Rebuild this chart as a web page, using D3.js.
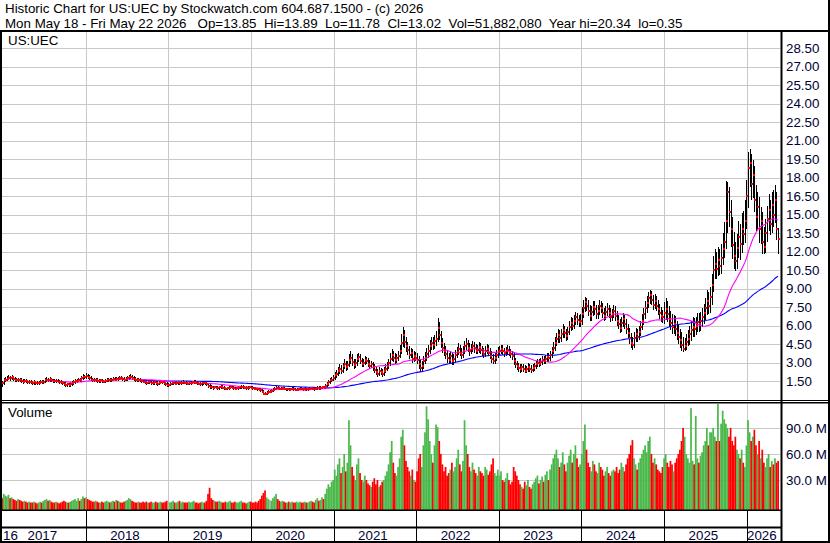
<!DOCTYPE html>
<html><head><meta charset="utf-8">
<script src="https://cdn.jsdelivr.net/npm/d3@7/dist/d3.min.js"></script>
<style>
html,body{margin:0;padding:0;background:#fff}
svg{display:block}
text{font-family:Arial,"Liberation Sans",sans-serif;font-size:13.33px}
</style>
</head><body>
<svg id="chart" width="830" height="543"></svg>
<script>
// ---------------- DATA (weekly bars, last week ends Fri May 22 2026) ----------------
const lastWeekEnd = "2026-05-22";
const headerLine1 = "Historic Chart for US:UEC by Stockwatch.com 604.687.1500 - (c) 2026";
const headerLine2 = "Mon May 18 - Fri May 22 2026   Op=13.85  Hi=13.89  Lo=11.78  Cl=13.02  Vol=51,882,080  Year hi=20.34  lo=0.35";
const symbol = "US:UEC";

const closes = [
// 2016
1.30,
// 2017
1.55,1.62,1.70,1.78,1.72,1.80,1.68,1.60,1.55,1.62,1.58,1.50,
1.45,1.52,1.48,1.40,1.42,1.38,1.35,1.40,1.32,1.30,1.36,1.42,1.38,
1.45,1.55,1.62,1.58,1.65,1.55,1.50,1.48,1.52,1.45,1.42,1.38,
1.30,1.25,1.20,1.22,1.18,1.25,1.32,1.40,1.48,1.52,1.60,1.58,1.72,1.85,1.80,
// 2018
1.90,1.82,1.75,1.62,1.58,1.55,1.60,1.52,1.50,1.55,1.48,1.45,
1.52,1.58,1.62,1.55,1.60,1.65,1.62,1.70,1.68,1.75,1.72,1.65,
1.60,1.68,1.72,1.80,1.85,1.75,1.65,1.60,1.58,1.62,1.55,1.50,
1.45,1.40,1.35,1.42,1.38,1.30,1.35,1.40,1.32,1.28,1.35,1.42,1.38,1.30,1.25,1.20,
// 2019
1.20,1.26,1.32,1.35,1.28,1.33,1.38,1.31,1.35,1.42,1.37,1.32,
1.28,1.30,1.35,1.40,1.44,1.37,1.32,1.27,1.22,1.30,1.36,1.30,
1.24,1.12,1.04,1.00,0.95,0.99,0.95,0.92,0.98,1.02,0.96,0.90,
0.88,0.92,0.95,1.00,0.96,0.92,0.88,0.90,0.94,0.98,1.02,0.98,0.95,0.92,0.96,1.00,
// 2020
0.95,0.92,0.88,0.85,0.82,0.80,0.75,0.62,0.45,0.42,0.55,0.62,
0.62,0.70,0.78,0.85,0.95,0.90,0.85,0.88,0.92,0.86,0.82,0.84,
0.80,0.85,0.88,0.82,0.78,0.80,0.84,0.88,0.85,0.82,0.86,0.83,
0.85,0.88,0.90,0.86,0.84,0.92,0.95,0.90,0.94,1.00,0.98,1.10,1.25,1.40,1.55,1.62,
// 2021
1.75,1.95,2.10,2.30,2.50,2.35,2.70,2.90,2.60,2.80,3.20,3.40,
3.05,2.80,2.95,3.30,3.45,3.10,2.85,3.00,3.20,3.10,2.90,2.75,2.85,
2.60,2.40,2.25,2.10,2.30,2.20,2.05,2.35,2.50,
2.70,2.95,3.30,3.60,3.40,3.20,3.35,3.55,3.90,4.60,5.20,4.70,4.30,
4.00,3.60,3.80,3.30,3.50,3.40,
// 2022
3.20,2.90,2.55,2.70,3.10,3.40,3.70,3.95,4.30,4.60,4.40,4.75,4.90,
5.80,5.20,4.60,4.20,3.90,3.70,3.40,3.20,3.50,3.10,
3.30,3.60,3.85,4.10,3.80,3.60,3.95,4.30,4.50,4.20,3.90,4.10,4.35,4.15,3.95,4.05,4.25,
4.00,3.85,3.70,3.95,4.10,3.80,3.55,3.30,3.15,3.40,3.60,3.85,
// 2023
3.95,4.10,3.90,3.75,3.95,4.05,3.80,3.65,3.50,3.10,2.85,2.70,2.55,
2.45,2.60,2.50,2.35,2.45,2.65,2.50,2.40,
2.55,2.70,2.85,3.00,2.90,3.05,3.20,3.10,3.30,3.45,3.35,
3.60,3.90,4.20,4.60,4.90,5.20,4.95,5.30,5.60,5.40,5.15,5.50,5.90,6.20,6.00,6.40,6.70,6.45,6.30,6.40,
// 2024
6.90,7.40,7.90,7.60,7.20,
6.80,7.10,7.50,7.30,6.90,7.20,7.60,7.40,7.00,6.80,7.10,7.30,7.00,6.70,6.90,7.20,
6.80,6.40,6.10,5.80,6.20,6.50,6.10,5.70,5.40,5.00,
4.60,4.40,5.00,5.30,5.10,5.50,5.90,6.40,6.90,7.40,7.80,8.20,8.50,
8.10,7.70,8.00,7.60,7.30,7.00,6.80,6.70,
// 2025
7.00,7.30,6.90,6.50,6.20,5.90,6.10,5.70,5.40,5.10,
4.80,4.40,4.10,4.30,4.70,4.90,
5.30,5.60,5.90,5.70,6.00,6.30,6.10,6.40,6.70,7.00,
7.40,8.00,7.60,8.30,9.30,10.50,11.00,10.60,11.30,10.80,11.50,
12.20,12.80,14.50,16.80,15.20,13.80,12.50,11.60,11.20,12.30,13.20,12.60,13.80,13.40,14.50,
// 2026
16.50,18.80,19.20,17.50,18.20,16.20,14.80,15.60,13.80,14.50,12.80,12.40,13.50,14.60,15.40,14.20,15.80,15.00,16.20,13.85,13.02
];

const highs = [
// 2016
1.47,
// 2017
1.71,1.80,1.87,1.98,1.93,2.00,1.93,1.83,1.75,1.77,1.76,1.71,
1.63,1.67,1.66,1.61,1.57,1.56,1.52,1.55,1.53,1.47,1.51,1.57,1.56,
1.61,1.71,1.79,1.77,1.81,1.78,1.69,1.65,1.67,1.65,1.59,1.56,
1.51,1.44,1.39,1.37,1.36,1.39,1.47,1.56,1.65,1.69,1.77,1.76,1.89,2.07,2.01,
// 2018
2.11,2.05,1.97,1.89,1.77,1.73,1.75,1.73,1.67,1.69,1.68,1.62,
1.67,1.73,1.78,1.76,1.75,1.81,1.79,1.85,1.85,1.91,1.89,1.85,
1.79,1.83,1.87,1.95,2.03,1.98,1.88,1.79,1.75,1.77,1.75,1.69,
1.63,1.59,1.54,1.57,1.55,1.51,1.50,1.55,1.53,1.46,1.49,1.57,1.55,1.51,1.44,1.39,
// 2019
1.36,1.40,1.46,1.50,1.47,1.47,1.52,1.50,1.48,1.56,1.54,1.49,
1.44,1.44,1.48,1.54,1.58,1.56,1.49,1.44,1.39,1.43,1.50,1.48,
1.42,1.36,1.25,1.18,1.13,1.13,1.11,1.08,1.11,1.16,1.14,1.08,
1.03,1.05,1.08,1.14,1.12,1.08,1.04,1.03,1.07,1.11,1.16,1.14,1.10,1.07,1.09,1.13,
// 2020
1.11,1.06,1.03,0.99,0.97,0.94,0.91,0.87,0.73,0.58,0.67,0.75,
0.77,0.83,0.91,0.99,1.11,1.07,1.02,1.01,1.05,1.03,0.97,0.96,
0.95,0.97,1.01,0.99,0.93,0.92,0.96,1.01,0.99,0.96,0.98,0.97,
0.97,1.00,1.03,1.01,0.97,1.04,1.08,1.06,1.06,1.13,1.13,1.25,1.43,1.60,1.77,1.85,
// 2021
1.95,2.20,2.40,2.60,2.88,2.80,3.00,3.25,3.15,3.10,3.65,3.90,
3.65,3.30,3.28,3.65,3.80,3.70,3.35,3.32,3.55,3.48,3.35,3.18,3.15,
3.08,2.85,2.65,2.50,2.60,2.55,2.45,2.65,2.85,
3.05,3.30,3.75,4.10,3.95,3.75,3.70,3.95,4.40,5.30,5.85,5.60,5.10,
4.70,4.35,4.20,4.10,3.90,3.85,
// 2022
3.80,3.55,3.20,3.10,3.50,3.85,4.20,4.45,4.80,5.10,5.05,5.20,5.55,
6.60,6.25,5.55,4.95,4.60,4.30,4.05,3.80,3.90,3.80,
3.70,4.00,4.25,4.55,4.45,4.15,4.35,4.75,4.95,4.85,4.55,4.50,4.75,4.70,4.50,4.45,4.65,
4.60,4.35,4.20,4.35,4.50,4.40,4.15,3.90,3.70,3.80,4.00,4.25,
// 2023
4.30,4.45,4.40,4.18,4.25,4.40,4.30,4.10,3.95,3.75,3.40,3.15,3.00,
2.85,2.90,2.88,2.78,2.75,2.95,2.90,2.78,
2.85,3.00,3.15,3.32,3.28,3.35,3.52,3.50,3.62,3.80,3.75,
3.95,4.25,4.65,5.05,5.40,5.70,5.60,5.75,6.10,6.00,5.75,5.90,6.35,6.70,6.60,6.85,7.10,7.05,6.85,6.90,
// 2024
7.50,8.05,8.30,8.25,8.05,
7.65,7.60,8.00,7.95,7.70,7.65,8.05,8.00,7.80,7.45,7.55,7.80,7.70,7.40,7.35,7.70,
7.60,7.20,6.85,6.55,6.65,7.00,6.85,6.50,6.15,5.80,
5.40,5.10,5.45,5.80,5.75,6.00,6.40,6.95,7.45,8.00,8.40,8.70,8.85,
8.80,8.50,8.55,8.40,8.05,7.75,7.50,7.25,
// 2025
7.90,8.20,7.95,7.55,7.20,6.90,6.85,6.75,6.35,6.05,
5.75,5.45,5.10,5.00,5.35,5.60,
6.00,6.35,6.65,6.60,6.70,7.05,7.00,7.10,7.45,7.75,
8.20,8.90,8.70,9.10,10.20,11.60,12.20,12.00,12.40,12.20,12.60,
13.50,14.40,17.75,17.60,17.20,16.20,14.80,13.60,12.80,13.40,14.50,14.20,15.10,15.30,16.20,
// 2026
17.80,20.10,20.34,19.90,19.40,18.90,17.40,16.80,16.40,15.60,15.20,14.00,14.60,15.70,16.70,16.20,16.80,17.00,17.40,16.80,13.89
];

const lows = [
// 2016
1.03,
// 2017
1.19,1.39,1.47,1.55,1.54,1.57,1.51,1.44,1.39,1.41,1.43,1.35,
1.29,1.31,1.33,1.25,1.25,1.23,1.19,1.21,1.17,1.14,1.17,1.23,1.23,
1.25,1.33,1.41,1.43,1.45,1.40,1.35,1.33,1.35,1.30,1.27,1.23,
1.15,1.09,1.04,1.05,1.02,1.05,1.12,1.19,1.27,1.34,1.39,1.42,1.45,1.59,1.63,
// 2018
1.65,1.67,1.59,1.47,1.43,1.39,1.41,1.37,1.35,1.36,1.33,1.30,
1.32,1.39,1.44,1.41,1.42,1.47,1.47,1.49,1.53,1.55,1.57,1.50,
1.45,1.47,1.54,1.59,1.66,1.60,1.50,1.45,1.43,1.44,1.40,1.35,
1.30,1.25,1.20,1.22,1.23,1.15,1.16,1.21,1.17,1.13,1.15,1.22,1.23,1.15,1.09,1.03,
// 2019
1.05,1.08,1.14,1.19,1.14,1.16,1.20,1.18,1.19,1.23,1.24,1.19,
1.14,1.15,1.18,1.23,1.28,1.24,1.19,1.14,1.08,1.10,1.18,1.17,
1.10,0.96,0.86,0.85,0.81,0.83,0.82,0.78,0.80,0.86,0.83,0.77,
0.74,0.76,0.80,0.83,0.83,0.79,0.75,0.75,0.78,0.82,0.86,0.85,0.82,0.79,0.80,0.84,
// 2020
0.83,0.80,0.76,0.73,0.70,0.68,0.62,0.49,0.36,0.35,0.36,0.44,
0.49,0.51,0.59,0.67,0.75,0.77,0.73,0.74,0.77,0.74,0.70,0.71,
0.68,0.69,0.74,0.70,0.66,0.67,0.69,0.73,0.73,0.70,0.71,0.71,
0.72,0.74,0.77,0.74,0.72,0.74,0.80,0.78,0.79,0.83,0.86,0.88,0.98,1.11,1.27,1.39,
// 2021
1.50,1.62,1.78,1.92,2.10,2.05,2.18,2.45,2.35,2.40,2.62,2.90,
2.75,2.50,2.57,2.75,3.05,2.85,2.60,2.65,2.80,2.85,2.67,2.50,2.53,
2.35,2.15,2.00,1.82,1.90,1.95,1.80,1.88,2.15,
2.30,2.50,2.75,3.10,3.05,2.90,2.95,3.15,3.35,3.65,4.25,4.15,3.85,
3.60,3.30,3.35,3.00,3.05,3.10,
// 2022
2.85,2.50,2.22,2.25,2.45,2.85,3.10,3.40,3.70,4.00,4.00,4.10,4.35,
4.65,4.80,4.20,3.80,3.50,3.25,3.00,2.85,2.90,2.80,
2.80,3.05,3.35,3.60,3.50,3.25,3.35,3.70,4.00,3.85,3.55,3.65,3.85,3.80,3.65,3.65,3.75,
3.70,3.55,3.35,3.45,3.65,3.50,3.25,2.98,2.85,2.88,3.10,3.35,
// 2023
3.57,3.67,3.62,3.47,3.52,3.67,3.52,3.37,3.22,2.80,2.55,2.40,2.25,
2.15,2.22,2.25,2.12,2.15,2.25,2.27,2.18,
2.20,2.35,2.50,2.65,2.67,2.70,2.82,2.85,2.90,3.08,3.08,
3.12,3.35,3.65,3.95,4.30,4.60,4.55,4.65,4.95,5.00,4.75,4.85,5.20,5.55,5.60,5.70,6.05,6.05,5.85,5.90,
// 2024
6.05,6.60,7.10,7.15,6.75,
6.35,6.40,6.75,6.85,6.50,6.55,6.85,7.00,6.60,6.35,6.45,6.75,6.60,6.30,6.35,6.60,
6.40,5.95,5.70,5.40,5.50,5.85,5.70,5.30,4.95,4.50,
4.15,4.05,4.15,4.65,4.70,4.80,5.15,5.60,6.05,6.55,7.05,7.45,7.75,
7.65,7.25,7.35,7.15,6.85,6.55,6.30,6.20,
// 2025
6.15,6.45,6.30,5.90,5.60,5.30,5.35,5.15,4.80,4.50,
4.15,3.90,3.85,3.90,4.00,4.30,
4.40,4.75,5.05,5.10,5.20,5.45,5.50,5.55,5.85,6.15,
6.45,6.85,6.95,7.05,7.70,8.70,9.80,9.80,10.00,10.10,10.20,
10.90,11.50,12.20,13.50,14.00,12.40,11.40,10.60,10.40,10.60,11.50,11.30,11.90,12.50,12.70,
// 2026
13.80,15.50,17.20,16.20,16.30,15.20,13.70,13.80,12.70,12.60,11.80,11.80,11.90,12.80,13.70,13.30,13.50,14.00,14.30,12.90,11.78
];

// weekly volume, millions of shares
const volumes = [
// 2016
9,
// 2017
14,12,11,13,9,10,8,7,6,8,7,6,
5,6,5,4,5,4,4,5,4,3,4,5,4,
6,7,8,6,7,5,4,4,5,4,3,4,
5,6,5,4,4,5,6,7,8,6,9,6,8,11,9,
// 2018
10,8,7,6,5,5,6,5,4,4,5,4,
5,6,5,4,5,6,5,7,6,5,4,4,
5,6,7,9,8,6,5,4,4,5,4,4,
5,4,5,4,4,5,4,4,5,4,4,5,4,4,5,6,
// 2019
5,4,5,6,4,4,5,6,4,5,4,4,
4,5,4,5,6,4,4,3,4,5,4,4,
6,14,21,9,7,6,5,5,6,5,4,4,
5,4,5,6,4,4,5,4,4,5,6,4,4,3,4,5,
// 2020
5,4,4,5,4,6,8,12,15,18,10,8,
7,6,9,11,14,8,6,5,6,5,4,4,
5,4,5,4,4,5,4,5,4,4,5,4,
4,5,6,5,4,7,9,6,7,10,8,14,20,25,22,28,
// 2021
30,42,35,48,55,38,45,60,40,50,99,70,
45,35,30,48,55,38,30,28,35,30,26,24,22,
28,32,25,30,22,24,28,30,35,
40,48,62,75,50,38,35,45,55,80,88,70,52,
45,40,35,42,30,28,
// 2022
40,55,60,45,70,85,115,100,75,60,50,70,94,
91,75,60,48,40,45,35,38,42,50,
40,45,55,65,48,40,52,99,70,60,45,40,50,42,38,35,45,
40,38,35,45,42,36,40,48,55,38,35,42,
// 2023
35,40,30,28,32,38,30,25,28,45,40,35,30,
25,22,20,28,24,30,22,20,
25,28,32,35,26,30,34,28,36,40,30,
42,48,55,60,65,55,45,50,62,48,40,50,58,65,50,60,70,55,45,48,
// 2024
60,75,94,65,50,
45,40,52,48,40,38,50,45,42,35,40,45,38,35,40,42,
40,45,38,42,50,45,40,48,55,60,
70,76,55,48,42,50,55,60,65,70,62,75,80,
60,50,55,48,42,40,38,45,
// 2025
55,60,50,45,52,48,40,50,55,60,
65,75,90,80,60,55,
50,113,52,48,104,55,50,58,62,70,
75,90,70,85,85,90,80,75,118,75,95,
110,100,95,90,80,90,75,70,80,65,60,55,65,50,45,
// 2026
70,99,85,75,80,88,70,60,75,55,65,50,45,55,60,45,52,48,55,50,51.9
];

const priceTicks = [1.5,3,4.5,6,7.5,9,10.5,12,13.5,15,16.5,18,19.5,21,22.5,24,25.5,27,28.5];
const volumeTicks = [30,60,90];
const yearLabels = ["16","2017","2018","2019","2020","2021","2022","2023","2024","2025","2026"];
const maShortWeeks = 30;
const maLongWeeks = 90;

// ---------------- LAYOUT ----------------
const W = 830, H = 543;
const plotL = 2, plotR = 780, axisX = 781;
const priceTop = 32, priceBot = 400;
const volTop = 404, volBot = 510;
const band2Bot = 541;

const svg = d3.select("#chart");
svg.append("rect").attr("width", W).attr("height", H).attr("fill", "#fff");

const N = closes.length;
const parse = d3.utcParse("%Y-%m-%d");
const last = parse(lastWeekEnd);
const dates = closes.map((_, i) => d3.utcHour.offset(d3.utcDay.offset(last, -7 * (N - 1 - i)), -60));

const x = d3.scaleUtc()
  .domain([new Date(Date.UTC(2017,0,1)), new Date(Date.UTC(2026,0,1))])
  .range([3.1, 746.7]);
const y = d3.scaleLinear().domain([0, 28.5]).range([399.5, 48.0]);
const yv = d3.scaleLinear().domain([0, 90]).range([506, 428]);

const yearStarts = d3.utcYear.range(new Date(Date.UTC(2017,0,1)), new Date(Date.UTC(2027,0,1)));
const gridCol = "#c8c8c8";

const defs = svg.append("defs");
defs.append("clipPath").attr("id","cp").append("rect")
  .attr("x", plotL).attr("y", priceTop).attr("width", plotR - plotL).attr("height", priceBot - priceTop);
defs.append("clipPath").attr("id","cv").append("rect")
  .attr("x", plotL).attr("y", volTop).attr("width", plotR - plotL).attr("height", volBot - volTop);

// ---------------- GRID ----------------
const grid = svg.append("g").attr("stroke", gridCol).attr("stroke-width", 1).attr("shape-rendering","crispEdges");
grid.selectAll(".hp").data(priceTicks).join("line")
  .attr("x1", plotL).attr("x2", plotR).attr("y1", d => Math.round(y(d)) + 0.5).attr("y2", d => Math.round(y(d)) + 0.5);
grid.selectAll(".hv").data(volumeTicks).join("line")
  .attr("x1", plotL).attr("x2", plotR).attr("y1", d => Math.round(yv(d)) + 0.5).attr("y2", d => Math.round(yv(d)) + 0.5);
const vyears = yearStarts.filter(d => x(d) > 10);
grid.selectAll(".vp").data(vyears).join("line")
  .attr("x1", d => Math.round(x(d)) + 0.5).attr("x2", d => Math.round(x(d)) + 0.5)
  .attr("y1", priceTop).attr("y2", priceBot);
grid.selectAll(".vv").data(vyears).join("line")
  .attr("x1", d => Math.round(x(d)) + 0.5).attr("x2", d => Math.round(x(d)) + 0.5)
  .attr("y1", volTop).attr("y2", volBot);

// ---------------- PRICE BARS ----------------
const idx = d3.range(N);
const gp = svg.append("g").attr("clip-path", "url(#cp)");
function sma(arr, n) {
  return arr.map((_, i) => i < n - 1 ? null : d3.mean(arr.slice(i - n + 1, i + 1)));
}
const maS = sma(closes, maShortWeeks);
const maL = sma(closes, maLongWeeks);
function drawMA(ma, col) {
  const pts = idx.filter(i => ma[i] != null);
  gp.append("path").datum(pts)
    .attr("fill", "none").attr("stroke", col).attr("stroke-width", 1.1)
    .attr("d", d3.line().x(i => x(dates[i])).y(i => y(ma[i])));
}
const px = i => Math.round(x(dates[i]));
gp.append("g").attr("fill", "#000").attr("shape-rendering", "crispEdges")
  .selectAll("rect").data(idx).join("rect")
  .attr("x", i => px(i)).attr("width", 1)
  .attr("y", i => Math.round(y(highs[i])))
  .attr("height", i => Math.max(2, Math.round(y(lows[i])) - Math.round(y(highs[i]))));
drawMA(maL, "#0000ff");
drawMA(maS, "#ff00ff");
gp.append("g").attr("fill", "#ff0000").attr("shape-rendering", "crispEdges")
  .selectAll("rect").data(idx).join("rect")
  .attr("x", i => px(i)).attr("y", i => Math.round(y(closes[i])) - 1)
  .attr("width", 2).attr("height", 2);

// ---------------- VOLUME ----------------
const step = x(dates[1]) - x(dates[0]);
const gv = svg.append("g").attr("clip-path", "url(#cv)");
gv.selectAll("rect").data(idx).join("rect")
  .attr("x", i => x(dates[i]) - step / 2).attr("width", step + 0.15)
  .attr("y", i => yv(volumes[i])).attr("height", i => volBot - yv(volumes[i]))
  .attr("fill", i => {
    if (i === 0) return "#ff0000";
    if (closes[i] > closes[i-1]) return "#4cb84c";
    if (closes[i] < closes[i-1]) return "#ff0000";
    return "#b4b4b4";
  });

// ---------------- FRAME ----------------
const fr = svg.append("g").attr("fill", "#000");
fr.append("rect").attr("x", 0).attr("y", 30).attr("width", W).attr("height", 2);
fr.append("rect").attr("x", 0).attr("y", 31).attr("width", 2).attr("height", H - 31);
fr.append("rect").attr("x", 828).attr("y", 0).attr("width", 2).attr("height", H);
fr.append("rect").attr("x", 0).attr("y", 541).attr("width", W).attr("height", 2);
fr.append("rect").attr("x", axisX - 0.5).attr("y", 31).attr("width", 2).attr("height", H - 31);
fr.append("rect").attr("x", 0).attr("y", 400).attr("width", W).attr("height", 1);
fr.append("rect").attr("x", 0).attr("y", 402).attr("width", W).attr("height", 1.5);
fr.append("rect").attr("x", 0).attr("y", 509.5).attr("width", axisX).attr("height", 1.5);
fr.append("rect").attr("x", 0).attr("y", 526.5).attr("width", axisX).attr("height", 2);
svg.append("g").attr("stroke", "#000").attr("stroke-width", 1).attr("shape-rendering","crispEdges")
  .selectAll("line").data(vyears).join("line")
  .attr("x1", d => Math.round(x(d)) + 0.5).attr("x2", d => Math.round(x(d)) + 0.5)
  .attr("y1", volBot).attr("y2", band2Bot);

// ---------------- TEXT ----------------
const txt = svg.append("g").attr("fill", "#000");
txt.append("text").attr("x", 5).attr("y", 12.8).text(headerLine1);
txt.append("text").attr("x", 5).attr("y", 27.8).style("white-space", "pre").text(headerLine2);
txt.append("text").attr("x", 8).attr("y", 45).text(symbol);
txt.append("text").attr("x", 8).attr("y", 417).text("Volume");

const axCol = "#000033";
svg.append("g").attr("fill", axCol).selectAll("text").data(priceTicks).join("text")
  .attr("x", 786).attr("y", d => y(d) + 4.8).text(d => d.toFixed(2));
svg.append("g").attr("fill", axCol).selectAll("text").data(volumeTicks).join("text")
  .attr("x", 786).attr("y", d => yv(d) + 4.8).text(d => d.toFixed(1) + " M");

const yl = svg.append("g").attr("fill", axCol);
yearLabels.forEach((lab, k) => {
  if (k === 0) {
    yl.append("text").attr("x", 3).attr("y", 539.5).text(lab);
  } else {
    const ys = yearStarts[k - 1];
    const x0 = x(ys);
    const x1 = Math.min(x(d3.utcYear.offset(ys, 1)), axisX);
    yl.append("text").attr("x", (x0 + x1) / 2 - 2).attr("y", 539.5)
      .attr("text-anchor", "middle").text(lab);
  }
});
</script>
</body></html>
